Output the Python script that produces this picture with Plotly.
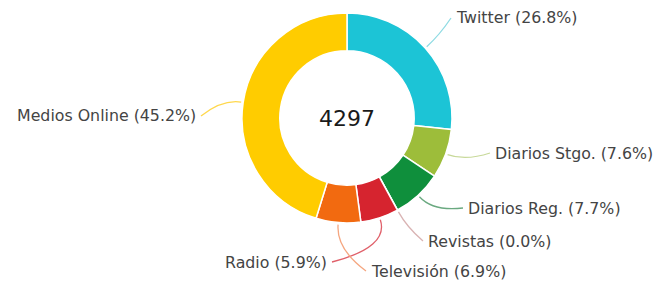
import math
import plotly.graph_objects as go

# ---- data ----
labels = ["Twitter", "Diarios Stgo.", "Diarios Reg.", "Revistas", "Radio", "Televisión", "Medios Online"]
values = [1150, 325, 330, 1, 252, 295, 1944]
colors = ["#1cc4d6", "#9dbd3a", "#0f8f3c", "#d9b3b3", "#d6242f", "#f26a10", "#ffcc00"]
line_colors = ["#8fdbe3", "#c8d99a", "#6aa980", "#d9b3b3", "#e0606a", "#f5a680", "#ffd84d"]
center_text = "4297"

# ---- layout (pixels) ----
W, H = 654, 282
CX, CY, R = 347, 118, 105
label_pos = [(454, 18, "left"), (493, 153, "left"), (466, 208, "left"),
             (426, 241, "left"), (329, 262, "right"), (369, 271, "left"),
             (198, 116, "right")]

def px(x, y):
    return x / W, 1 - y / H

fig = go.Figure(go.Pie(
    labels=labels, values=values, sort=False, direction="clockwise", rotation=0,
    hole=0.64, marker=dict(colors=colors, line=dict(color="white", width=1.5)),
    textinfo="none", hoverinfo="label+percent", showlegend=False,
    domain=dict(x=[(CX - R) / W, (CX + R) / W], y=[1 - (CY + R) / H, 1 - (CY - R) / H]),
))

total = sum(values)
cum = 0
shapes, annotations = [], []
for i, (lab, v) in enumerate(zip(labels, values)):
    mid = (cum + v / 2) / total
    cum += v
    ang = 2 * math.pi * mid
    dx, dy = math.sin(ang), -math.cos(ang)
    sx, sy = CX + (R + 2) * dx, CY + (R + 2) * dy
    lx, ly, anchor = label_pos[i]
    ex = lx - 3 if anchor == "left" else lx + 3
    ey = ly
    d = math.hypot(ex - sx, ey - sy)
    cx_, cy_ = sx + dx * d * 0.45, sy + dy * d * 0.45
    p0, p1, p2 = px(sx, sy), px(cx_, cy_), px(ex, ey)
    shapes.append(dict(type="path", xref="paper", yref="paper",
                       path=f"M {p0[0]},{p0[1]} Q {p1[0]},{p1[1]} {p2[0]},{p2[1]}",
                       line=dict(color=line_colors[i], width=1.3)))
    pct = 100 * v / total
    ax_, ay_ = px(lx, ly)
    annotations.append(dict(x=ax_, y=ay_, xref="paper", yref="paper", xanchor=anchor,
                            yanchor="middle", showarrow=False,
                            text=f"{lab} ({pct:.1f}%)",
                            font=dict(family="DejaVu Sans", size=15.8, color="#444444")))

cxp, cyp = px(CX, CY)
annotations.append(dict(x=cxp, y=cyp, xref="paper", yref="paper", showarrow=False,
                        text=center_text, font=dict(family="DejaVu Sans", size=22, color="#1a1a1a")))

fig.update_layout(width=W, height=H, margin=dict(l=0, r=0, t=0, b=0),
                  paper_bgcolor="white", plot_bgcolor="white",
                  shapes=shapes, annotations=annotations)
fig.write_html("out.html", config={"displayModeBar": False},
               post_script="document.body.style.margin='0';document.body.style.overflow='hidden';")
